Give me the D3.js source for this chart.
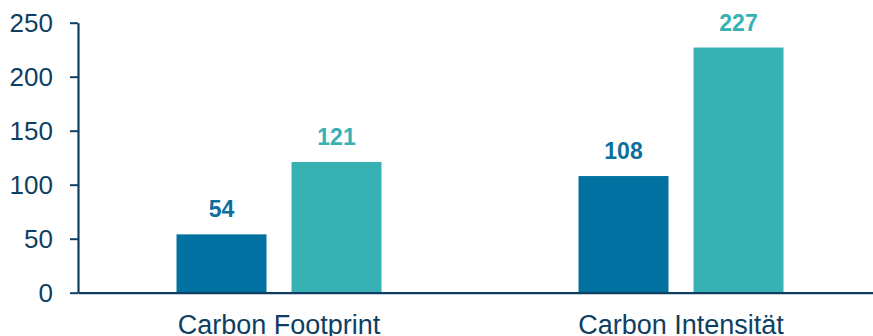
<!DOCTYPE html>
<html><head><meta charset="utf-8">
<script src="https://cdn.jsdelivr.net/npm/d3@7"></script>
<style>body{margin:0;background:#fff}svg{display:block}</style>
</head><body>
<svg id="c" width="873" height="336"></svg>
<script>
const categories = ["Carbon Footprint", "Carbon Intensität"];
const seriesNames = ["A", "B"];
const seriesA = [54, 108];
const seriesB = [121, 227];
const yTicks = [0, 50, 100, 150, 200, 250];

const colors = {A: "#0071A0", B: "#38B1B5"};
const labelColors = {A: "#0F6E9E", B: "#38B1B5"};
const axisColor = "#0E3F63";
const font = "Liberation Sans, Arial, sans-serif";

const svg = d3.select("#c");
const x0 = 78, y0 = 292.7, yTop = 22.7;
const y = d3.scaleLinear().domain([0, 250]).range([y0, yTop]);
const x = d3.scaleBand().domain(categories).range([x0, 882]).paddingInner(0).paddingOuter(0);
const xs = d3.scalePoint().domain(seriesNames).range([-57.5, 57.5]);
const barW = 90;

const data = [];
categories.forEach((c, i) => {
  data.push({cat: c, s: "A", v: seriesA[i]});
  data.push({cat: c, s: "B", v: seriesB[i]});
});

svg.selectAll("rect.bar").data(data).enter().append("rect")
  .attr("class", "bar")
  .attr("x", d => x(d.cat) + x.bandwidth() / 2 + xs(d.s) - barW / 2)
  .attr("width", barW)
  .attr("y", d => y(d.v))
  .attr("height", d => y(0) - y(d.v))
  .attr("fill", d => colors[d.s]);

svg.selectAll("text.val").data(data).enter().append("text")
  .attr("class", "val")
  .attr("x", d => x(d.cat) + x.bandwidth() / 2 + xs(d.s))
  .attr("y", d => y(d.v) - 17)
  .attr("text-anchor", "middle")
  .attr("font-family", font)
  .attr("font-weight", "bold")
  .attr("font-size", 23)
  .attr("fill", d => labelColors[d.s])
  .text(d => d.v);

// y axis
const yAxis = d3.axisLeft(y).tickValues(yTicks).tickSize(8).tickPadding(17).tickSizeOuter(0);
const gy = svg.append("g").attr("transform", `translate(${x0},0)`).call(yAxis);
gy.select(".domain").attr("stroke", axisColor).attr("stroke-width", 2.2);
gy.selectAll(".tick line").attr("stroke", axisColor).attr("stroke-width", 2);
gy.selectAll(".tick text").attr("fill", axisColor)
  .attr("font-family", font).attr("font-size", 26);

// x axis
const xAxis = d3.axisBottom(x).tickSize(0).tickPadding(22).tickSizeOuter(0);
const gx = svg.append("g").attr("transform", `translate(0,${y0})`).call(xAxis);
gx.select(".domain").attr("stroke", axisColor).attr("stroke-width", 2.2);
gx.selectAll(".tick text").attr("fill", axisColor)
  .attr("font-family", font).attr("font-size", 27);
</script>
</body></html>
